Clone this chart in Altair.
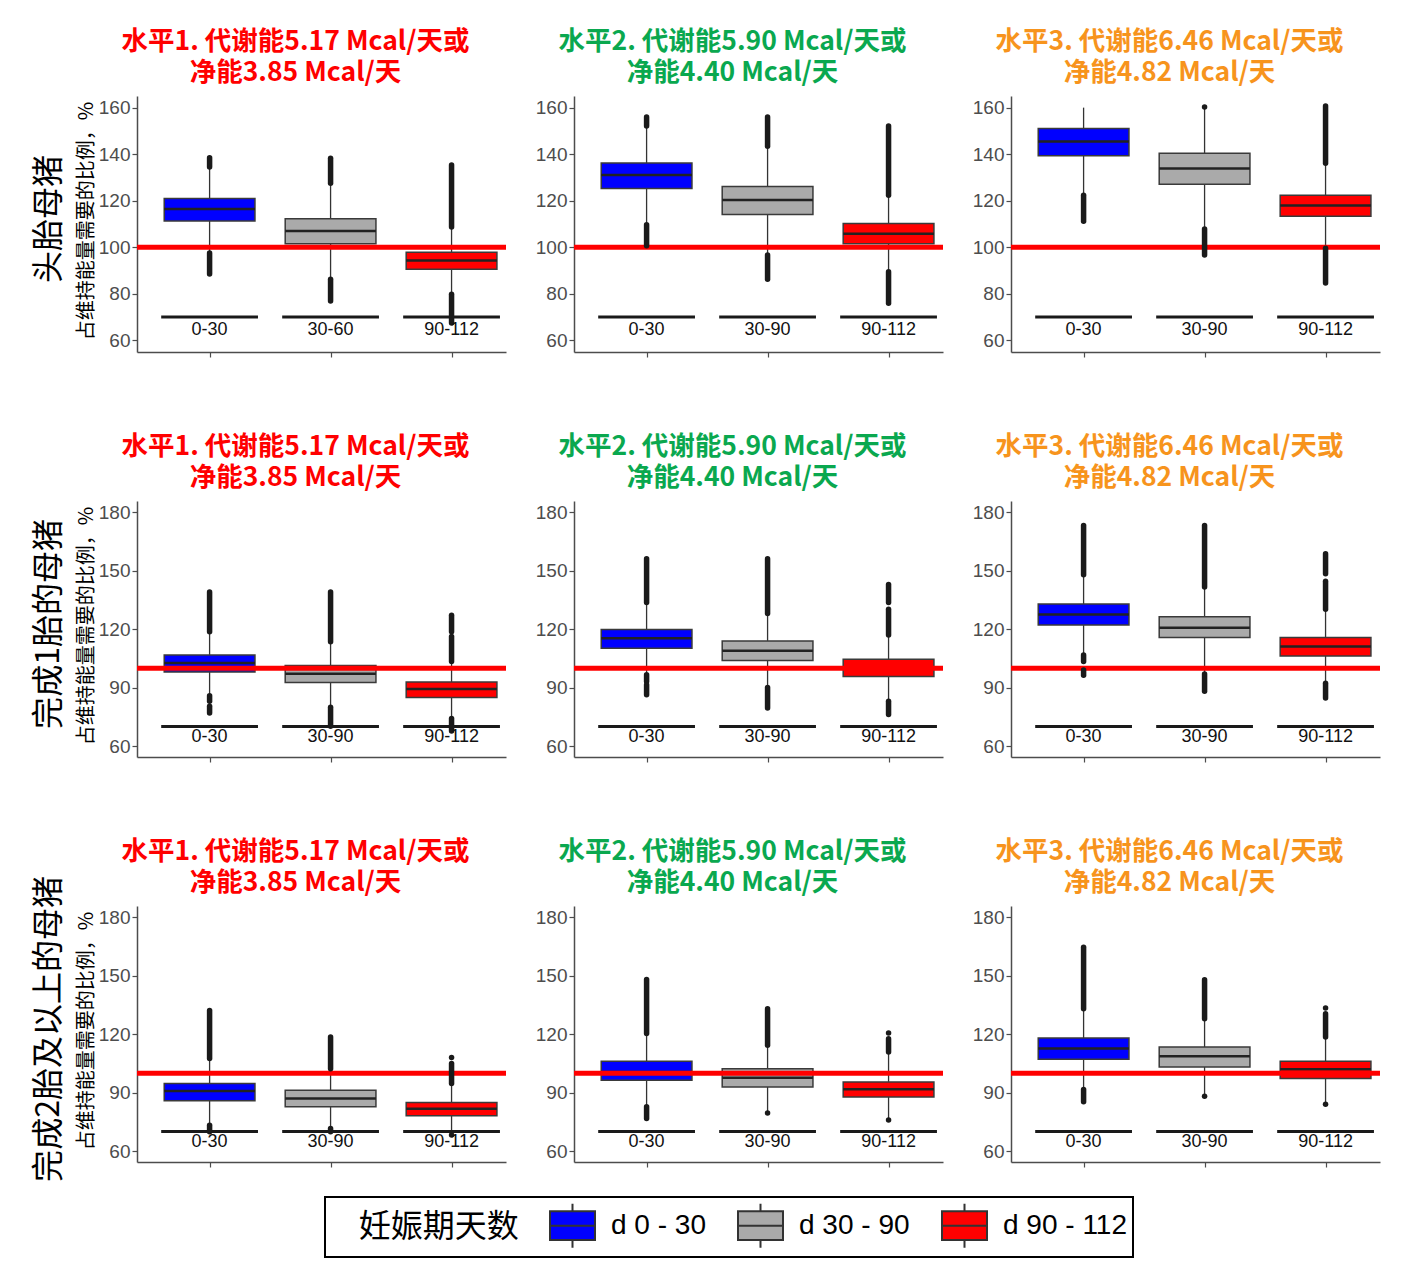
import altair as alt
import pandas as pd

# ---------------- data ----------------
ROW_LABELS = ["头胎母猪", "完成1胎的母猪", "完成2胎及以上的母猪"]
Y_TITLE = "占维持能量需要的比例，%"
TITLE_LINES = [
    ["水平1. 代谢能5.17 Mcal/天或", "净能3.85 Mcal/天"],
    ["水平2. 代谢能5.90 Mcal/天或", "净能4.40 Mcal/天"],
    ["水平3. 代谢能6.46 Mcal/天或", "净能4.82 Mcal/天"],
]
TITLE_COLORS = ["#FF0000", "#0AA84F", "#F7941D"]

STAGES = ["d 0 - 30", "d 30 - 90", "d 90 - 112"]
STAGE_COLORS = ["#0000FF", "#AAAAAA", "#FF0000"]
POSITIONS = [1, 2, 3]

# category labels per panel (row-major, 9 panels)
XLABELS = [
    ["0-30", "30-60", "90-112"], ["0-30", "30-90", "90-112"], ["0-30", "30-90", "90-112"],
    ["0-30", "30-90", "90-112"], ["0-30", "30-90", "90-112"], ["0-30", "30-90", "90-112"],
    ["0-30", "30-90", "90-112"], ["0-30", "30-90", "90-112"], ["0-30", "30-90", "90-112"],
]

Y_DOMAINS = [[55.0, 165.0], [54.4, 185.8], [54.4, 185.8]]
Y_TICKS = [[60, 80, 100, 120, 140, 160], [60, 90, 120, 150, 180], [60, 90, 120, 150, 180]]
REF_LINE = [100]
BASE_Y = 70
LABEL_Y = 64.5

# box statistics per panel: [d0-30, d30-90, d90-112]
Q1 = [
    [111.3, 101.5, 90.6], [125.3, 114.1, 101.5], [139.3, 127.1, 113.3],
    [98.0, 92.7, 85.0], [110.2, 103.9, 95.7], [122.1, 115.7, 106.3],
    [85.8, 82.7, 78.1], [96.4, 92.9, 87.8], [107.1, 103.2, 97.2],
]
MED = [
    [116.4, 107.0, 94.3], [131.1, 120.3, 105.8], [145.5, 133.9, 118.0],
    [102.6, 97.1, 89.3], [115.3, 109.0, 100.0], [127.6, 120.8, 111.1],
    [90.9, 87.0, 81.7], [100.6, 97.6, 91.8], [112.6, 108.7, 102.0],
]
Q3 = [
    [121.0, 112.3, 97.9], [136.2, 126.1, 110.2], [151.0, 140.4, 122.3],
    [106.8, 101.4, 92.9], [119.9, 114.0, 104.6], [132.9, 126.4, 115.8],
    [94.7, 91.2, 84.9], [106.1, 102.3, 95.5], [118.0, 113.4, 106.1],
]
WHISKER_LO = [
    [97.5, 86.3, 79.8], [109.7, 96.7, 89.5], [122.3, 107.8, 99.6],
    [86.0, 80.0, 74.1], [96.6, 90.1, 83.0], [106.8, 98.0, 92.3],
    [73.3, 71.6, 69.0], [82.7, 80.0, 76.5], [91.6, 88.5, 84.5],
]
WHISKER_HI = [
    [134.5, 127.5, 108.7], [152.1, 143.4, 122.4], [160.0, 159.5, 136.1],
    [118.7, 113.6, 103.4], [133.7, 128.1, 117.0], [148.0, 141.7, 130.3],
    [107.5, 102.3, 94.7], [120.3, 114.3, 110.9], [133.1, 127.9, 118.6],
]
# runs of (dense) outliers per panel: (box index, low, high)
OUTLIER_RUNS = [
    [(0, 134.5, 138.5), (0, 88.5, 97.5), (1, 127.5, 138.3), (1, 76.9, 86.3), (2, 108.7, 135.4), (2, 67.5, 79.8)],
    [(0, 152.1, 156.0), (0, 100.7, 109.7), (1, 143.4, 156.0), (1, 86.3, 96.7), (2, 122.4, 152.1), (2, 75.9, 89.5)],
    [(0, 111.2, 122.3), (1, 160.3, 160.3), (1, 96.7, 107.8), (2, 136.1, 160.7), (2, 84.7, 99.6)],
    [(0, 118.7, 139.1), (0, 83.0, 85.9), (0, 77.0, 80.4), (1, 113.6, 139.1), (1, 70.2, 79.9),
     (2, 118.7, 127.2), (2, 103.4, 116.2), (2, 67.7, 74.1)],
    [(0, 133.7, 156.2), (0, 93.2, 96.6), (0, 86.4, 91.5), (1, 128.1, 156.2), (1, 79.6, 90.1),
     (2, 133.7, 142.9), (2, 117.0, 130.3), (2, 76.2, 83.0)],
    [(0, 148.0, 173.2), (0, 103.4, 106.8), (0, 96.3, 99.1), (1, 141.7, 173.2), (1, 88.1, 97.0),
     (2, 148.5, 158.7), (2, 130.3, 144.6), (2, 84.7, 92.3)],
    [(0, 107.5, 132.2), (0, 69.9, 73.3), (1, 102.3, 118.6), (1, 69.9, 71.6), (2, 94.7, 104.9),
     (2, 108.0, 108.0), (2, 68.2, 68.2)],
    [(0, 120.3, 148.1), (0, 76.7, 82.7), (1, 114.3, 133.1), (1, 79.6, 79.6), (2, 110.9, 117.7),
     (2, 120.6, 120.6), (2, 75.9, 75.9)],
    [(0, 133.1, 164.6), (0, 85.3, 91.6), (1, 127.9, 147.9), (1, 88.2, 88.2), (2, 118.6, 130.5),
     (2, 133.4, 133.4), (2, 84.1, 84.1)],
]

# ---------------- layout / style ----------------
W = 369
H = 256
X_DOMAIN = [0.4, 3.45]
CJK = "Noto Sans CJK SC"
LATIN = "Liberation Sans"
TITLE_DY = [[0, 0, 0], [0, 0, 0], [30, 0, 0]]

BOX_PATH = "M-1,-0.64H1V0.64H-1Z M-1,0H1 M0,-0.64V-0.98 M0,0.64V0.98"

LEGEND = alt.Legend(
    orient="none", legendX=188, legendY=1101, direction="horizontal", columns=3,
    title="\u200b\u00a0\u00a0\u00a0\u00a0妊娠期天数", titleOrient="left", titleFontSize=32, titleFont=CJK,
    titleFontWeight="normal", titleColor="black", titlePadding=30, titleBaseline="middle",
    titleLimit=500, labelLimit=300,
    labelFontSize=28, labelFont=LATIN, labelColor="black", labelOffset=15,
    symbolType=BOX_PATH, symbolSize=2025, symbolStrokeColor="#333333", symbolStrokeWidth=2,
    symbolOpacity=1, columnPadding=28, padding=5, strokeColor="black", cornerRadius=0,
)

box_rows = []
for p in range(9):
    for b in range(3):
        box_rows.append(dict(panel=p, pos=POSITIONS[b], stage=STAGES[b], lab=XLABELS[p][b],
                             q1=Q1[p][b], med=MED[p][b], q3=Q3[p][b],
                             wlo=WHISKER_LO[p][b], whi=WHISKER_HI[p][b]))
box_df = pd.DataFrame(box_rows)

out_rows = []
for p in range(9):
    for b, lo, hi in OUTLIER_RUNS[p]:
        out_rows.append(dict(panel=p, pos=POSITIONS[b], lo=lo, hi=hi))
out_df = pd.DataFrame(out_rows)


def make_panel(r, c):
    p = r * 3 + c
    xs = alt.Scale(domain=X_DOMAIN, nice=False, zero=False)
    ys = alt.Scale(domain=Y_DOMAINS[r], nice=False, zero=False)
    xax = alt.Axis(values=POSITIONS, labels=False, title=None, grid=False)
    yax = alt.Axis(values=Y_TICKS[r], title=None, grid=False)

    d = box_df[box_df.panel == p]
    o = out_df[out_df.panel == p]
    base = alt.Chart(d).transform_calculate(
        xl="datum.pos - 0.375", xr="datum.pos + 0.375",
        bl="datum.pos - 0.4", br="datum.pos + 0.4")

    w_lo = base.mark_rule(color="#333333", strokeWidth=1.3).encode(
        x=alt.X("pos:Q", scale=xs, axis=xax), y=alt.Y("wlo:Q", scale=ys, axis=yax), y2="q1:Q")
    w_hi = base.mark_rule(color="#333333", strokeWidth=1.3).encode(
        x=alt.X("pos:Q", scale=xs, axis=xax), y=alt.Y("q3:Q", scale=ys, axis=yax), y2="whi:Q")
    box = base.mark_bar(stroke="#3a3a3a", strokeWidth=1.5).encode(
        x=alt.X("xl:Q", scale=xs, axis=xax), x2="xr:Q",
        y=alt.Y("q1:Q", scale=ys, axis=yax), y2="q3:Q",
        color=alt.Color("stage:N", scale=alt.Scale(domain=STAGES, range=STAGE_COLORS), legend=LEGEND))
    med = base.mark_rule(color="#222222", strokeWidth=2.5).encode(
        x=alt.X("xl:Q", scale=xs, axis=xax), x2="xr:Q", y=alt.Y("med:Q", scale=ys, axis=yax))
    ref = alt.Chart(pd.DataFrame({"ref": REF_LINE})).mark_rule(color="#FF0000", strokeWidth=5).encode(
        y=alt.Y("ref:Q", scale=ys, axis=yax), x=alt.value(0), x2=alt.value(W))
    outl = alt.Chart(o).mark_rule(color="#1a1a1a", strokeWidth=5.5, strokeCap="round").encode(
        x=alt.X("pos:Q", scale=xs, axis=xax), y=alt.Y("lo:Q", scale=ys, axis=yax), y2="hi:Q")
    bline = base.mark_rule(color="#1a1a1a", strokeWidth=3).encode(
        x=alt.X("bl:Q", scale=xs, axis=xax), x2="br:Q", y=alt.Y(datum=BASE_Y, scale=ys, axis=yax))
    labs = base.mark_text(fontSize=18, font=LATIN, color="#111111", baseline="middle").encode(
        x=alt.X("pos:Q", scale=xs, axis=xax), y=alt.Y(datum=LABEL_Y, scale=ys, axis=yax), text="lab:N")

    layers = [w_lo, w_hi, box, med, ref, outl, bline, labs]
    if c == 0:
        rl = alt.Chart(pd.DataFrame({"t": [ROW_LABELS[r]]})).mark_text(
            angle=270, fontSize=32, font=CJK, color="black", align="center", baseline="middle"
        ).encode(text="t:N", x=alt.value(-88), y=alt.value(H / 2 - 5))
        yt = alt.Chart(pd.DataFrame({"t": [Y_TITLE]})).mark_text(
            angle=270, fontSize=20, font=CJK, color="black", align="center", baseline="middle"
        ).encode(text="t:N", x=alt.value(-50), y=alt.value(H / 2 - 3))
        layers += [rl, yt]

    return alt.layer(*layers).properties(
        width=W, height=H,
        title=alt.TitleParams(text=TITLE_LINES[c], color=TITLE_COLORS[c], fontSize=26.5, font=CJK,
                              fontWeight="bold", anchor="middle", frame="group", dx=-26,
                              dy=TITLE_DY[r][c], offset=10, lineHeight=31),
    )


panels = [make_panel(r, c) for r in range(3) for c in range(3)]
chart = alt.concat(*panels, columns=3, spacing=alt.RowColnumber(row=149, column=68), bounds="flush").properties(
    padding={"left": 24, "top": 20, "right": 5, "bottom": 5}
).configure_view(stroke="transparent").configure_axis(
    domainColor="#4d4d4d", domainWidth=1.5, tickColor="#4d4d4d", tickWidth=1.2, tickSize=5,
    labelColor="#4D4D4D", labelFont=LATIN, labelFontSize=19, labelPadding=2,
).configure_legend(strokeWidth=2)

chart.save("out.html", embed_options={"renderer": "svg", "actions": False})
